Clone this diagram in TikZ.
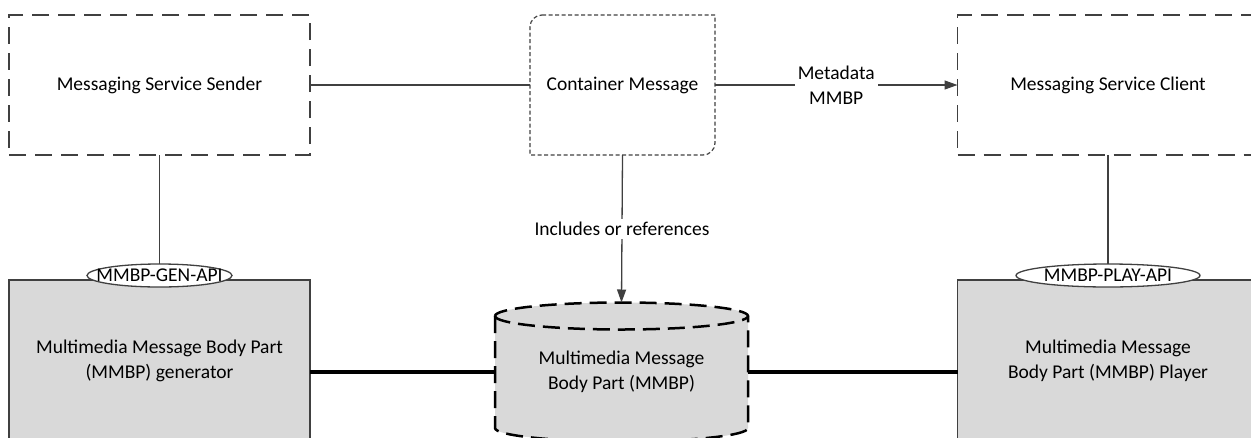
\documentclass[tikz,border=0pt]{standalone}
\usepackage{fontspec}
\setmainfont{Carlito}
\usetikzlibrary{arrows.meta,shapes.geometric}
\definecolor{boxgray}{RGB}{217,217,217}
\definecolor{linegray}{RGB}{64,64,64}
\pgfdeclarelayer{background}
\pgfsetlayers{background,main}
\tikzstyle{txt}=[font=\fontsize{19.5}{25}\selectfont, align=center, inner sep=0pt, outer sep=0pt]
\tikzstyle{service}=[txt, draw=linegray, line width=1.3pt, dash pattern=on 17pt off 9pt, minimum width=301pt, minimum height=140pt]
\tikzstyle{unit}=[txt, draw=linegray, fill=boxgray, line width=1.3pt, minimum width=301pt, minimum height=162pt]
\tikzstyle{api}=[ellipse, draw=linegray, fill=white, line width=1.3pt, minimum height=23pt, inner sep=0pt, outer sep=0pt]
\tikzstyle{link}=[draw=linegray, line width=1.3pt]
\tikzstyle{heavylink}=[draw=black, line width=4pt]
\tikzstyle{arrowlink}=[link, -{Triangle[length=13pt,width=9pt]}]
\tikzstyle{lbl}=[txt, fill=white, inner sep=3pt]
\tikzstyle{cyl}=[draw=black, fill=boxgray, line width=2.5pt, dash pattern=on 17pt off 8pt]

\begin{document}
\begin{tikzpicture}[x=1pt, y=-1pt]

    \clip (0,0) rectangle (1251,437);

    % top row
    \node[service] (sender) at (159.5,85) {Messaging Service Sender};
    \node[txt, minimum width=185pt, minimum height=140pt] (container) at (622.5,85) {Container Message};
    \node[service] (client) at (1108,85) {Messaging Service Client};

    \draw[linegray, line width=1.2pt, dash pattern=on 4pt off 2.5pt]
        ([xshift=12pt]container.north west) -- (container.north east)
        -- ([yshift=12pt]container.south east) arc[start angle=0, end angle=-90, radius=12pt]
        -- (container.south west) -- ([yshift=-12pt]container.north west)
        arc[start angle=180, end angle=90, radius=12pt] -- cycle;

    % bottom row
    \node[unit] (generator) at (159.5,361) {Multimedia Message Body Part\\(MMBP) generator};
    \node[unit] (player) at (1108,361) {Multimedia Message\\Body Part (MMBP) Player};
    \node[txt, minimum width=253pt, minimum height=112pt] (mmbp) at (621.5,372) {Multimedia Message\\Body Part (MMBP)};

    \begin{pgfonlayer}{background}
    \draw[cyl] (mmbp.north west) -- (mmbp.south west)
        arc[start angle=180, end angle=360, x radius=126.5pt, y radius=13.5pt]
        -- (mmbp.north east)
        arc[start angle=0, end angle=180, x radius=126.5pt, y radius=13.5pt] -- cycle;
    \draw[cyl, fill=none] (mmbp.north west)
        arc[start angle=180, end angle=360, x radius=126.5pt, y radius=13.5pt];
    \end{pgfonlayer}

    \node[api, minimum width=145pt, label={[txt]center:MMBP-GEN-API}] (genapi) at ([yshift=4.5pt]generator.north) {};
    \node[api, minimum width=184pt, label={[txt]center:MMBP-PLAY-API}] (playapi) at ([yshift=4.5pt]player.north) {};

    % connectors
    \foreach \source/\dest in {sender.east/container.west, sender.south/genapi.north, client.south/playapi.north}
        \path[link] (\source) -- (\dest);

    \path[arrowlink] (container.east) -- node[lbl] {Metadata\\MMBP} (client.west);
    \path[arrowlink] (container.south) -- node[lbl] {Includes or references} ([yshift=13.5pt]mmbp.north);

    \path[heavylink] (generator.east |- mmbp.west) -- (mmbp.west);
    \path[heavylink] (mmbp.east) -- (mmbp.east -| player.west);

\end{tikzpicture}
\end{document}
